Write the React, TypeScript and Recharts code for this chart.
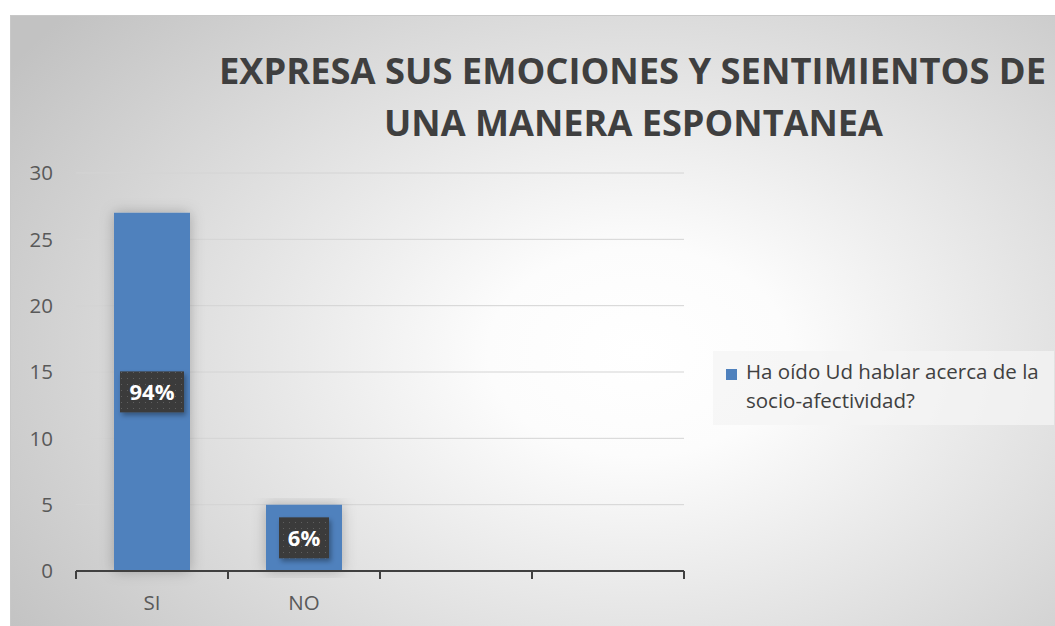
import { Bar, BarChart, CartesianGrid, LabelList, XAxis, YAxis } from "recharts"

const categories = ["SI", "NO", "", ""]
const respuestas: (number | null)[] = [27, 5, null, null]
const porcentajes = ["94%", "6%", "", ""]
const yTicks = [0, 5, 10, 15, 20, 25, 30]
const titleLines = ["EXPRESA SUS EMOCIONES Y SENTIMIENTOS DE", "UNA MANERA ESPONTANEA"]
const legendLines = ["Ha oído Ud hablar acerca de la", "socio-afectividad?"]

const WIDTH = 1045
const HEIGHT = 611
const X_AXIS_H = 30
const MARGIN = { top: 157, right: 372, bottom: 56 - X_AXIS_H, left: 0 }
const Y_AXIS_W = 65
const BAND = (WIDTH - MARGIN.right - Y_AXIS_W) / categories.length
const FONT = "'Open Sans', 'DejaVu Sans', sans-serif"
const BAR_COLOR = "#4f81bd"

const data = categories.map((name, i) => ({
  name,
  value: respuestas[i],
  pct: porcentajes[i],
}))

function CategoryTick(props: any) {
  const { x, y, payload, index } = props
  const cx = payload?.coordinate ?? x
  const last = index === categories.length - 1
  return (
    <g>
      <line x1={cx - BAND / 2} x2={cx - BAND / 2} y1={y} y2={y + 8} stroke="#404040" strokeWidth={2} />
      {last && (
        <line x1={cx + BAND / 2} x2={cx + BAND / 2} y1={y} y2={y + 8} stroke="#404040" strokeWidth={2} />
      )}
      <text x={cx} y={y + 39} textAnchor="middle" fill="#595959" fontSize={20.5} fontFamily={FONT}>
        {payload.value}
      </text>
    </g>
  )
}

function PctLabel(props: any) {
  const { x, y, width, height, value } = props
  if (!value) return null
  const w = 22 + 14 * String(value).length
  const h = 41
  const cx = Number(x) + Number(width) / 2
  const cy = Number(y) + Number(height) / 2
  return (
    <g>
      <rect x={cx - w / 2} y={cy - h / 2} width={w} height={h} fill="url(#dots)" filter="url(#labelShadow)" />
      <text
        x={cx}
        y={cy + 8}
        textAnchor="middle"
        fill="#ffffff"
        fontSize={22}
        fontWeight={700}
        fontFamily={FONT}
      >
        {value}
      </text>
    </g>
  )
}

// legend sits to the right of the plot, like the Excel original
function LegendBox() {
  return (
    <div
      style={{
        position: "absolute",
        left: 702,
        top: 335,
        width: 341,
        height: 74,
        background: "rgba(244,244,244,0.75)",
        fontFamily: FONT,
        fontSize: 20.5,
        color: "#404040",
      }}
    >
      <div style={{ position: "absolute", left: 13, top: 18, width: 11, height: 11, background: BAR_COLOR }} />
      <div style={{ position: "absolute", left: 33, top: 6, lineHeight: "29px", whiteSpace: "nowrap" }}>
        {legendLines.map((l) => (
          <div key={l}>{l}</div>
        ))}
      </div>
    </div>
  )
}

export default function App() {
  return (
    <div
      style={{
        position: "absolute",
        left: 10,
        top: 15,
        width: WIDTH,
        height: HEIGHT,
        borderTop: "1px solid #c8c8c8",
        borderLeft: "1px solid #c8c8c8",
        background:
          "radial-gradient(ellipse 72% 85% at 60% 55%, #ffffff 0%, #fcfcfc 20%, #c2c2c2 100%)",
      }}
    >
      <svg width={WIDTH} height={150} style={{ position: "absolute", left: 0, top: 0 }}>
        <text
          x={208}
          y={68}
          textLength={827}
          lengthAdjust="spacingAndGlyphs"
          fill="#3f3f3f"
          fontSize={36}
          fontWeight={700}
          fontFamily={FONT}
        >
          {titleLines[0]}
        </text>
        <text
          x={373}
          y={120}
          textLength={499}
          lengthAdjust="spacingAndGlyphs"
          fill="#3f3f3f"
          fontSize={36}
          fontWeight={700}
          fontFamily={FONT}
        >
          {titleLines[1]}
        </text>
      </svg>
      <BarChart width={WIDTH} height={HEIGHT} data={data} margin={MARGIN} barCategoryGap="25%">
        <defs>
          <filter id="barGlow" x="-30%" y="-10%" width="160%" height="120%">
            <feDropShadow dx="0" dy="0" stdDeviation="7" floodColor="#000" floodOpacity="0.25" />
          </filter>
          <filter id="labelShadow" x="-30%" y="-30%" width="160%" height="160%">
            <feDropShadow dx="2" dy="3" stdDeviation="2.5" floodColor="#000" floodOpacity="0.35" />
          </filter>
          <pattern id="dots" width="6" height="6" patternUnits="userSpaceOnUse">
            <rect width="6" height="6" fill="#3b3b3b" />
            <rect x="2" y="2" width="1" height="1" fill="#5f5f5f" />
          </pattern>
        </defs>
        <CartesianGrid vertical={false} stroke="#d4d4d4" strokeWidth={1} />
        <XAxis
          dataKey="name"
          height={X_AXIS_H}
          axisLine={{ stroke: "#404040", strokeWidth: 2 }}
          tickLine={false}
          tickSize={0}
          tickMargin={0}
          tick={<CategoryTick />}
          interval={0}
        />
        <YAxis
          width={Y_AXIS_W}
          domain={[0, 30]}
          ticks={yTicks}
          axisLine={false}
          tickLine={false}
          tickSize={0}
          tickMargin={23}
          tick={{ fill: "#595959", fontSize: 20.5, fontFamily: FONT }}
        />
        <Bar
          dataKey="value"
          name={legendLines.join(" ")}
          fill={BAR_COLOR}
          filter="url(#barGlow)"
          isAnimationActive={false}
        >
          <LabelList dataKey="pct" content={<PctLabel />} />
        </Bar>
      </BarChart>
      <LegendBox />
    </div>
  )
}
